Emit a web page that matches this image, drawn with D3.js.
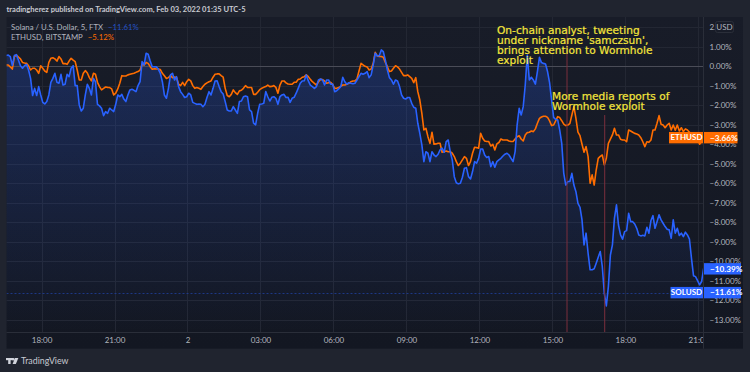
<!DOCTYPE html>
<html><head><meta charset="utf-8">
<script src="https://cdn.jsdelivr.net/npm/d3@7"></script>
<style>html,body{margin:0;padding:0;background:#20242f;overflow:hidden}svg{display:block}</style>
</head><body><div id="c"></div>
<script>
// percent change, one value per 5-minute bar
const solValues=[.55,.58,.5,.05,.55,.6,.32,.03,-.1,.03,.1,-.19,-.62,-1.5,-1.13,-1.5,-1.04,-1.47,-1.85,-1.93,-1.81,-1.47,-.82,-.62,-.36,-.82,-.87,-.41,-.96,-.92,-.41,-.53,-.1,.03,-.99,-.99,-1.98,-2.29,-2.15,-1.47,-.92,-1.13,-1.47,-.62,-.79,-1.95,-2.03,-2.15,-2.53,-2.32,-2.41,-2.15,-2.24,-2.32,-1.95,-1.47,-1.56,-1.44,-1.68,-1.81,-1.47,-1.21,-1.18,-1.23,-1.3,-.99,-.79,.24,.07,.67,.62,.27,-.02,-.02,-.03,-.14,-.36,-.79,-1.47,-1.64,-1.13,-.44,-.36,-.7,-.53,-1.04,
-1.3,-1.44,-1.6,-1.56,-1.38,-1.47,-1.85,-1.9,-1.95,-1.93,-1.95,-2.07,-1.95,-1.6,-1.3,-1.47,-1.13,-.75,-.74,-1.04,-1.3,-1.42,-1.81,-2.24,-2.29,-2.29,-2.07,-2.24,-2.41,-1.81,-1.78,-1.56,-1.52,-1.56,-2.24,-2.32,-2.92,-3.0,-2.41,-1.95,-1.93,-1.9,-1.3,-1.56,-1.78,-1.59,-1.56,-1.64,-1.95,-1.56,-1.47,-1.44,-1.6,-1.59,-1.85,-1.64,-1.59,-1.38,-1.13,-.87,-.75,-.74,-.44,-.75,-.96,-1.04,-1.13,-1.04,-.7,-.65,-.7,-.96,-.7,-.7,-.92,-.91,-1.3,-1.25,-1.16,-1.04,-.56,-.79,-.92,-.84,-.87,
-.89,-.87,-.7,-.53,-.36,-.41,-.36,-.27,-.58,-.44,.07,.67,.53,.55,.84,.75,.32,-.19,-.58,-.7,-.92,-.7,-.75,-1.04,-1.47,-1.64,-1.68,-1.6,-1.6,-1.9,-2.1,-2.15,-2.92,-3.44,-4.03,-4.89,-4.38,-4.46,-4.89,-4.38,-4.55,-4.63,-4.51,-4.29,-4.2,-4.41,-3.86,-3.78,-4.38,-4.8,-5.66,-5.97,-6.03,-6.0,-5.69,-5.23,-5.2,-5.66,-5.78,-5.4,-4.89,-4.97,-4.72,-4.24,-4.24,-4.55,-4.68,-4.63,-5.15,-4.89,-5.18,-4.89,-4.8,-4.72,-4.6,-4.51,-4.46,-4.55,-4.72,-4.89,-4.38,-3.0,-2.15,-2.5,-2.07,-.96,.58,
-.7,-.56,-.7,-.91,-.27,.46,.19,.15,.12,-.27,-.84,-1.73,-2.62,-2.72,-2.75,-3.26,-3.95,-5.49,-6.09,-5.91,-5.91,-5.49,-6.09,-6.43,
-7.03,-7.23,-7.88,-9.16,-8.56,-9.59,-10.44,-10.44,-10.39,-10.1,-9.79,-9.5,-10.27,-11.64,-12.29,-11.3,-9.68,-9.16,-7.79,-7.11,-8.14,-8.65,-8.87,-8.48,-8.43,-7.54,-7.97,-7.97,-8.09,-8.31,-8.65,-8.7,-8.67,-8.7,-8.26,-8.56,-7.91,-7.66,-8.31,-7.97,-7.62,-7.88,-8.05,-8.22,-8.36,-8.39,-8.82,-7.88,-8.56,-8.31,-8.68,-8.56,-8.74,-8.51,-8.65,-8.87,-9.85,-10.74,-10.79,-10.99,-11.21,-11.04,-10.36];
const ethValues=[.07,.07,-.03,-.14,.5,.58,.48,.38,.2,.17,.15,.03,-.19,-.1,-.1,-.19,-.36,.03,-.1,-.24,-.31,.2,.41,.44,.38,.27,.5,.38,.14,.14,.1,.27,.41,.32,.24,-.19,-.7,-.7,-.36,-.22,-.34,-.58,-.75,-.36,-.41,-.82,-1.04,-1.21,-1.13,-1.06,-1.08,-1.09,-1.16,-1.47,-1.38,-1.16,-.87,-.48,-.5,-.5,-.44,-.41,-.38,-.36,-.31,-.27,-.19,.1,.07,.2,.15,-.02,-.15,-.12,-.14,-.14,-.17,-.36,-.48,-.62,-.58,-.48,-.58,-.55,-.58,-.92,
-.99,-.82,-.99,-.79,-.67,-.75,-.99,-1.13,-1.09,-1.13,-1.18,-1.04,-.92,-.85,-.79,-.75,-.56,-.41,-.39,-.39,-.48,-.56,-1.13,-1.5,-1.56,-1.44,-1.21,-1.35,-1.44,-1.26,-1.23,-1.13,-.99,-1.08,-1.09,-1.09,-1.44,-1.44,-1.33,-1.2,-1.13,-1.08,-1.04,-.96,-1.04,-1.03,-.99,-1.08,-1.38,-.96,-.75,-.75,-.85,-.91,-.92,-.92,-.82,-.82,-.67,-.65,-.56,-.53,-.44,-.53,-.67,-.79,-.87,-.96,-.79,-.67,-.68,-.75,-.87,-.84,-.82,-.92,-1.13,-1.13,-1.08,-1.03,-.96,-.96,-.92,-.87,-.79,
-.75,-.75,-.65,-.24,.15,.07,0,-.03,-.19,-.14,.15,.72,.53,.5,.5,.46,.2,-.02,-.27,-.24,-.1,.03,-.03,-.14,-.31,-.48,-.48,-.44,-.53,-.62,-.84,-.58,-1.3,-1.73,-2.41,-3.26,-3.18,-3.61,-3.95,-3.38,-4.0,-3.98,-3.95,-3.95,-4.41,-4.38,-4.34,-4.38,-4.38,-4.46,-4.63,-4.89,-5.09,-4.97,-4.8,-4.63,-4.72,-5.09,-4.89,-4.46,-4.15,-4.17,-4.2,-3.44,-3.69,-3.83,-3.86,-3.86,-4.09,-4.0,-4.29,-3.98,-3.91,-3.73,-3.78,-3.78,-3.78,-3.83,-3.86,-3.86,-3.73,-3.61,-3.56,-3.73,-3.83,-3.52,-3.4,
-3.38,-3.32,-3.35,-3.21,-2.92,-2.67,-2.6,-2.56,-2.56,-2.62,-2.8,-3.04,-3.01,-2.8,-2.58,-2.63,-2.79,-2.97,-3.04,-3.01,-2.94,-2.5,-2.07,-2.67,-3.38,-3.56,-4.0,-4.41,-4.12,-4.63,-6.0,-5.57,-6.09,-5.32,-4.72,-4.62,-4.55,-5.06,-4.72,-3.95,-3.74,-3.52,-3.18,-3.52,-3.52,-3.74,-3.78,-3.78,-3.87,-3.27,-3.32,-3.38,-3.44,-3.47,-3.52,-3.66,-3.87,-4.12,-3.87,-3.9,-3.78,-3.27,-3.27,-2.92,-2.53,-2.97,-3.01,-3.15,-3.01,-2.92,-3.27,-3.01,-3.28,-3.01,-3.32,-3.15,-3.35,-3.21,-3.27,-3.38,-3.49,-3.52,-3.56,-3.69,-4.0,-3.87,-3.83];
const startHour=16.55, barsPerHour=12;
const timeTicks=[18,21,24,27,30,33,36,39,42,45];
const timeLabels=["18:00","21:00","2","03:00","06:00","09:00","12:00","15:00","18:00","21:00"];
const pctTicks=[2,1,0,-1,-2,-3,-4,-5,-6,-7,-8,-9,-10,-11,-12,-13];
const eventHours=[39.6,41.15];
const eventTops=[2,-2.5];
const notes=[["On-chain analyst, tweeting","under nickname 'samczsun',","brings attention to Wormhole","exploit"],["More media reports of","Wormhole exploit"]];
const title="tradingherez published on TradingView.com, Feb 03, 2022 01:35 UTC-5";
const legendNames=["Solana / U.S. Dollar, 5, FTX","ETHUSD, BITSTAMP"];
const legendVals=["−11.61%","−5.12%"];
const lastSol=-11.61, prevSol=-10.39, lastEth=-3.66;

const W=750,H=372,L=6.5,R=703,T=17,B=332,AB=348.7,AR=743;
const FONT="Lato,sans-serif";
const BLUE="#2962ff",ORANGE="#ff6d00";
const x=d3.scaleLinear().domain([16.56,45.19]).range([L,R]);
const y=d3.scaleLinear().domain([2.53,-13.63]).range([T,B]);
const hour=i=>startHour+i/barsPerHour;
const fmt=v=>(v<0?"−":"")+Math.abs(v).toFixed(2)+"%";

const svg=d3.select("#c").append("svg").attr("width",W).attr("height",H).style("font-family",FONT);
const defs=svg.append("defs");
const bg=defs.append("linearGradient").attr("id","bg").attr("x1",0).attr("x2",0).attr("y1",0).attr("y2",1);
bg.append("stop").attr("offset",0).attr("stop-color","#181c28");
bg.append("stop").attr("offset",1).attr("stop-color","#131722");
const ag=defs.append("linearGradient").attr("id","ag").attr("gradientUnits","userSpaceOnUse").attr("x1",0).attr("x2",0).attr("y1",y(1)).attr("y2",B);
ag.append("stop").attr("offset",0).attr("stop-color",BLUE).attr("stop-opacity",.24);
ag.append("stop").attr("offset",.45).attr("stop-color",BLUE).attr("stop-opacity",.13);
ag.append("stop").attr("offset",1).attr("stop-color",BLUE).attr("stop-opacity",0);
defs.append("clipPath").attr("id","plot").append("rect").attr("x",L).attr("y",T).attr("width",R-L).attr("height",B-T);
defs.append("clipPath").attr("id","time2").append("rect").attr("x",0).attr("y",-8).attr("width",R).attr("height",20);

svg.append("rect").attr("width",W).attr("height",H).attr("fill","#20242f");
svg.append("rect").attr("x",L).attr("y",T).attr("width",AR-L).attr("height",AB-T).attr("fill","url(#bg)");

// grid
const grid=svg.append("g").attr("stroke","#232733").attr("stroke-width",1);
grid.selectAll(".v").data(timeTicks).join("line").attr("x1",d=>Math.round(x(d))+.5).attr("x2",d=>Math.round(x(d))+.5).attr("y1",T).attr("y2",B);
grid.selectAll(".h").data(pctTicks).join("line").attr("x1",L).attr("x2",R).attr("y1",d=>Math.round(y(d))+.5).attr("y2",d=>Math.round(y(d))+.5);

const g=svg.append("g").attr("clip-path","url(#plot)");
g.append("path").datum(solValues).attr("fill","url(#ag)")
 .attr("d",d3.area().x((d,i)=>x(hour(i))).y0(B).y1(d=>y(d)));
g.append("line").attr("x1",L).attr("x2",R).attr("y1",Math.round(y(0))+.5).attr("y2",Math.round(y(0))+.5).attr("stroke","#4a4c57");
g.append("line").attr("x1",L).attr("x2",R).attr("y1",Math.round(y(lastSol))+.5).attr("y2",Math.round(y(lastSol))+.5)
 .attr("stroke","#1f3f9c").attr("stroke-opacity",.8).attr("stroke-dasharray","2 2");
const line=d3.line().x((d,i)=>x(hour(i))).y(d=>y(d));
g.append("path").datum(ethValues).attr("fill","none").attr("stroke",ORANGE).attr("stroke-width",1.6).attr("stroke-linejoin","round").attr("d",line);
g.append("path").datum(solValues).attr("fill","none").attr("stroke",BLUE).attr("stroke-width",1.6).attr("stroke-linejoin","round").attr("d",line);
g.selectAll(".ev").data(eventHours).join("line").attr("x1",d=>x(d)).attr("x2",d=>x(d)).attr("y1",(d,i)=>y(eventTops[i])).attr("y2",B).attr("stroke","#7b2f3d").attr("stroke-width",1);

// annotations
notes.forEach((n,k)=>{
  svg.append("text").attr("fill","#f5e63c").attr("font-size",10.6).attr("font-family","'DejaVu Sans',sans-serif").attr("stroke","#f5e63c").attr("stroke-width",.2)
   .selectAll("tspan").data(n).join("tspan").attr("x",k?552:497).attr("y",(d,i)=>(k?100:33.5)+i*10).text(d=>d);
});

// axis borders
svg.append("line").attr("x1",L).attr("x2",AR).attr("y1",B+.5).attr("y2",B+.5).attr("stroke","#2a2e39");
svg.append("line").attr("x1",R+.5).attr("x2",R+.5).attr("y1",T).attr("y2",AB).attr("stroke","#2a2e39");

// time axis
const tAxis=d3.axisBottom(x).tickValues(timeTicks).tickFormat((d,i)=>timeLabels[i]).tickSize(0).tickPadding(0);
const tg=svg.append("g").attr("transform",`translate(0,${B+8})`).attr("clip-path","url(#time2)").call(tAxis);
tg.select(".domain").remove();
tg.selectAll("text").attr("fill","#b2b5be").attr("font-size",8).attr("font-family",FONT).attr("dy",".35em").attr("y",0);

// price axis
const pAxis=d3.axisRight(y).tickValues(pctTicks).tickFormat(fmt).tickSize(0).tickPadding(0);
const pg=svg.append("g").attr("transform","translate(709.5,0)").call(pAxis);
pg.select(".domain").remove();
pg.selectAll("text").attr("fill","#b2b5be").attr("font-size",8).attr("font-family",FONT).attr("x",0);

// USD button
svg.append("rect").attr("x",715.5).attr("y",21.5).attr("width",18).attr("height",11).attr("rx",2).attr("fill","#181c28").attr("stroke","#2a2e39");
svg.append("text").attr("x",724.5).attr("y",27).attr("dy",".35em").attr("text-anchor","middle").attr("fill","#b2b5be").attr("font-size",8).text("USD");

// price tags
function tag(v,col,name){
  const cy=y(v);
  svg.append("rect").attr("x",704).attr("y",cy-5.7).attr("width",name==="ETHUSD"?33.5:37).attr("height",11.4).attr("fill",col);
  svg.append("text").attr("x",710).attr("y",cy).attr("dy",".35em").attr("fill","#fff").attr("font-size",8.2).attr("font-weight",700).text(fmt(v));
  if(name){
    svg.append("rect").attr("x",name==="ETHUSD"?669:670.5).attr("y",cy-5.7).attr("width",name==="ETHUSD"?34:32.5).attr("height",11.4).attr("fill",col);
    svg.append("text").attr("x",686.5).attr("y",cy).attr("dy",".35em").attr("text-anchor","middle").attr("fill","#fff").attr("font-size",8).attr("font-weight",700).text(name);
  }
}
tag(prevSol,BLUE,null);tag(lastSol,BLUE,"SOLUSD");tag(lastEth,ORANGE,"ETHUSD");

// title + legend
svg.append("text").attr("x",6.5).attr("y",9.5).attr("dy",".35em").attr("fill","#c8cad1").attr("font-size",7.55).attr("font-weight",700).text(title);
legendNames.forEach((n,i)=>{
  const t=svg.append("text").attr("x",11).attr("y",27+i*10.7).attr("dy",".35em").attr("font-size",7.8).attr("fill","#b2b5be");
  t.append("tspan").text(n);
  t.append("tspan").attr("dx",5).attr("fill",i?ORANGE:"#2451c4").text(legendVals[i]);
});

// TradingView mark
const logo=svg.append("g").attr("fill","#d1d4dc");
logo.append("rect").attr("x",6).attr("y",358).attr("width",7).attr("height",2.2);
logo.append("rect").attr("x",8.2).attr("y",358).attr("width",2.4).attr("height",6);
logo.append("circle").attr("cx",13.4).attr("cy",359.2).attr("r",1.2);
logo.append("path").attr("d",d3.line()([[15,358],[18.4,358],[15.8,364],[12.6,364]]));
svg.append("text").attr("x",21).attr("y",361.3).attr("dy",".35em").attr("fill","#c8cad1").attr("font-size",8.8).text("TradingView");
</script></body></html>
